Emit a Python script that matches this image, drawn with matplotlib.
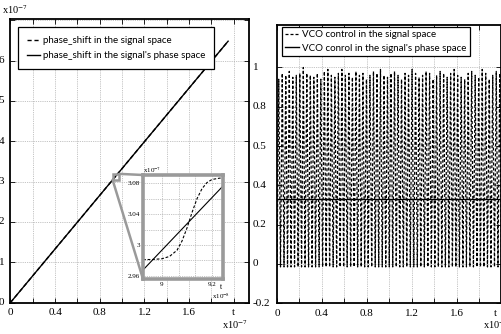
import numpy as np
import matplotlib
matplotlib.use("Agg")
import matplotlib.pyplot as plt
from matplotlib.patches import Rectangle, ConnectionPatch
from matplotlib.transforms import blended_transform_factory

plt.rcParams['mathtext.fontset'] = 'stix'

# ---------------- data ----------------
# left: phase shift (x1e-7) vs t (x1e-7)
phase_t = [0.0, 1.95]
phase_space_vals = [0.0, 6.48]
phase_signal_vals = [0.0, 6.48]
# inset (t in x1e-8, value in x1e-7)
inset_t_solid = [8.924, 9.244]
inset_solid = [2.9674, 3.0765]
inset_t_dashed = [8.924, 8.96, 9.0, 9.03, 9.06, 9.08, 9.1, 9.12, 9.14, 9.16, 9.18, 9.2, 9.236]
inset_dashed = [2.981, 2.981, 2.982, 2.985, 2.993, 3.005, 3.022, 3.042, 3.060, 3.073, 3.081, 3.085, 3.087]

# right: VCO control (peak of each oscillation)
vco_peaks = [0.94, 0.97, 0.96, 0.98, 0.95, 0.96, 0.97, 1.0, 0.97, 0.96, 0.95, 0.97,
             0.94, 0.98, 0.99, 0.96, 0.95, 0.97, 0.99, 0.96, 0.97, 0.95, 0.98, 0.96,
             0.97, 0.94, 0.96, 0.98, 0.97, 0.99, 0.96, 0.95, 0.97, 0.98, 0.96, 0.94,
             0.97, 0.96, 0.99, 0.97, 0.95, 0.96, 0.98, 0.97, 0.94, 0.96, 0.98, 0.97,
             0.95, 0.97, 0.99, 0.96, 0.95, 0.94, 0.97, 0.98, 0.96, 0.95, 0.99, 0.97,
             0.94, 0.96, 0.98, 0.97]
vco_trough = -0.015
vco_phase_level = 0.33
t_end_right = 2.0

left_xticks = [0, 0.2, 0.4, 0.6, 0.8, 1.0, 1.2, 1.4, 1.6, 1.8, 2.0]
left_xlabels = ['0', '', '0.4', '', '0.8', '', '1.2', '', '1.6', '', 't']
left_yticks = [0, 1, 2, 3, 4, 5, 6, 7]
left_ylabels = ['0', '1', '2', '3', '4', '5', '6', '']
right_xlabels = ['0', '', '0.4', '', '0.8', '', '1.2', '', '1.6', '', '']
right_yticks = [-0.2, 0, 0.2, 0.4, 0.6, 0.8, 1.0]
right_ylabels = ['-0.2', '0', '0.2', '0.4', '0.5', '0.8', '1']
inset_xticks = [9.0, 9.0667, 9.1333, 9.2]
inset_xlabels = ['9', '', '', '9.2']
inset_yticks = [2.96, 2.98, 3.0, 3.02, 3.04, 3.06, 3.08]
inset_ylabels = ['2.96', '', '3', '', '3.04', '', '3.08']

W, H = 502, 334
SERIF = 'Liberation Serif'
SANS = 'Lato'
GRID = dict(color='#b0b0b0', linestyle=(0, (1, 1.2)), linewidth=0.6)
GREY = '#9a9a9a'

fig = plt.figure(figsize=(W / 100, H / 100), dpi=100)

def px_axes(l, t, r, b):
    return fig.add_axes([l / W, 1 - b / H, (r - l) / W, (b - t) / H])

def style(ax):
    for s in ax.spines.values():
        s.set_linewidth(1.3)
        s.set_color('black')
    ax.tick_params(direction='in', top=True, right=True, length=3.5, width=0.6,
                   labelsize=8, pad=4)
    for lab in ax.get_xticklabels() + ax.get_yticklabels():
        lab.set_fontfamily(SERIF)

# ---------------- left ----------------
ax1 = px_axes(10.5, 19, 249, 302.5)
ax1.set_xlim(0, 2.137)
ax1.set_ylim(0, 7.03)
ax1.set_xticks(left_xticks)
ax1.set_xticklabels(left_xlabels)
ax1.set_yticks(left_yticks)
ax1.set_yticklabels([])
for x in left_xticks[1:]:
    ax1.axvline(x, **GRID, zorder=0)
for y in left_yticks[1:]:
    ax1.axhline(y, **GRID, zorder=0)
style(ax1)
ax1.plot(phase_t, phase_signal_vals, color='black', lw=1.0, linestyle=(0, (3, 2)),
         label='phase_shift in the signal space')
ax1.plot(phase_t, phase_space_vals, color='black', lw=1.0,
         label="phase_shift in the signal's phase space")
tr1 = blended_transform_factory(fig.transFigure, ax1.transData)
for y, lab in zip(left_yticks, left_ylabels):
    ax1.text(-1.5 / W, y, lab, transform=tr1, ha='left', va='center',
             fontsize=8, family=SERIF)
fig.text(2 / W, 1 - 10 / H, r'x10$^{-7}$', ha='left', va='center', fontsize=7.5, family=SERIF)
fig.text(222 / W, 1 - 325 / H, r'x10$^{-7}$', ha='left', va='center', fontsize=7.5, family=SERIF)

leg1 = ax1.legend(loc='upper left', bbox_to_anchor=(18 / W, 1 - 27 / H),
                  bbox_transform=fig.transFigure, borderaxespad=0,
                  prop={'family': SANS, 'size': 7}, frameon=True, fancybox=False,
                  framealpha=1, edgecolor='black', borderpad=0.95, labelspacing=0.6,
                  handlelength=1.3, handletextpad=0.3)
leg1.get_frame().set_linewidth(0.9)

# zoom marker box
ax1.add_patch(Rectangle((0.915, 3.04), 0.06, 0.15, fill=False, edgecolor=GREY, lw=1.8, zorder=5))

# ---------------- inset ----------------
axi = px_axes(143, 175, 223, 279)
axi.set_xlim(8.924, 9.244)
axi.set_ylim(2.9557, 3.0908)
axi.set_xticks(inset_xticks)
axi.set_xticklabels(inset_xlabels)
axi.set_yticks(inset_yticks)
axi.set_yticklabels(inset_ylabels)
axi.grid(True, **GRID)
axi.set_axisbelow(True)
for s in axi.spines.values():
    s.set_linewidth(2.6)
    s.set_color(GREY)
axi.tick_params(direction='in', length=0, labelsize=5, pad=2)
for lab in axi.get_xticklabels() + axi.get_yticklabels():
    lab.set_fontfamily(SERIF)
axi.plot(inset_t_solid, inset_solid, color='black', lw=0.8)
axi.plot(inset_t_dashed, inset_dashed, color='black', lw=0.8, linestyle=(0, (2.5, 1.6)))
axi.text(9.236, 2.9557, 't', transform=axi.transData, ha='center', va='top',
         fontsize=5.5, family=SERIF).set_y(2.951)
axi.text(0.0, 1.0, r'x10$^{-7}$', transform=axi.transAxes, ha='left', va='bottom',
         fontsize=5, family=SERIF)
fig.text(212 / W, 1 - 296 / H, r'x10$^{-8}$', ha='left', va='center', fontsize=5, family=SERIF)

for xa, ya, xb, yb in [(0.975, 3.19, 0, 1), (0.915, 3.04, 0, 0)]:
    cp = ConnectionPatch(xyA=(xa, ya), coordsA=ax1.transData,
                         xyB=(xb, yb), coordsB=axi.transAxes,
                         color=GREY, lw=1.8, zorder=6)
    fig.add_artist(cp)

# ---------------- right ----------------
ax2 = px_axes(277, 25, 501.5, 303.3)
ax2.set_xlim(0, t_end_right)
ax2.set_ylim(-0.2, 1.216)
ax2.set_xticks(left_xticks)
ax2.set_xticklabels(right_xlabels)
ax2.set_yticks(right_yticks)
ax2.set_yticklabels([])
for x in left_xticks[1:-1]:
    ax2.axvline(x, **GRID, zorder=0)
for y in right_yticks[1:]:
    ax2.axhline(y, **GRID, zorder=0)
style(ax2)

n = len(vco_peaks)
t_vco = np.linspace(0, t_end_right, 2 * n + 1)
y_vco = np.full(2 * n + 1, vco_trough)
y_vco[1::2] = vco_peaks
ax2.plot(t_vco, y_vco, color='black', lw=0.9, linestyle=(0, (2.4, 1.6)),
         label='VCO control in the signal space')
ax2.plot([0, t_end_right], [vco_phase_level, vco_phase_level], color='black', lw=1.0,
         label="VCO conrol in the signal's phase space")

tr2 = blended_transform_factory(fig.transFigure, ax2.transData)
for y, lab in zip(right_yticks, right_ylabels):
    ax2.text(253 / W, y, lab, transform=tr2, ha='left', va='center',
             fontsize=8, family=SERIF)
fig.text(495 / W, 1 - 313 / H, 't', ha='center', va='center', fontsize=8, family=SERIF)
fig.text(483 / W, 1 - 325 / H, r'x10$^{-7}$', ha='left', va='center', fontsize=7.5, family=SERIF)

leg2 = ax2.legend(loc='upper left', bbox_to_anchor=(282 / W, 1 - 27 / H),
                  bbox_transform=fig.transFigure, borderaxespad=0,
                  prop={'family': SANS, 'size': 7}, frameon=True, fancybox=False,
                  framealpha=1, edgecolor='black', borderpad=0.3, labelspacing=0.5,
                  handlelength=1.5, handletextpad=0.3)
leg2.get_frame().set_linewidth(0.9)

fig.savefig('out.png', dpi=100)
